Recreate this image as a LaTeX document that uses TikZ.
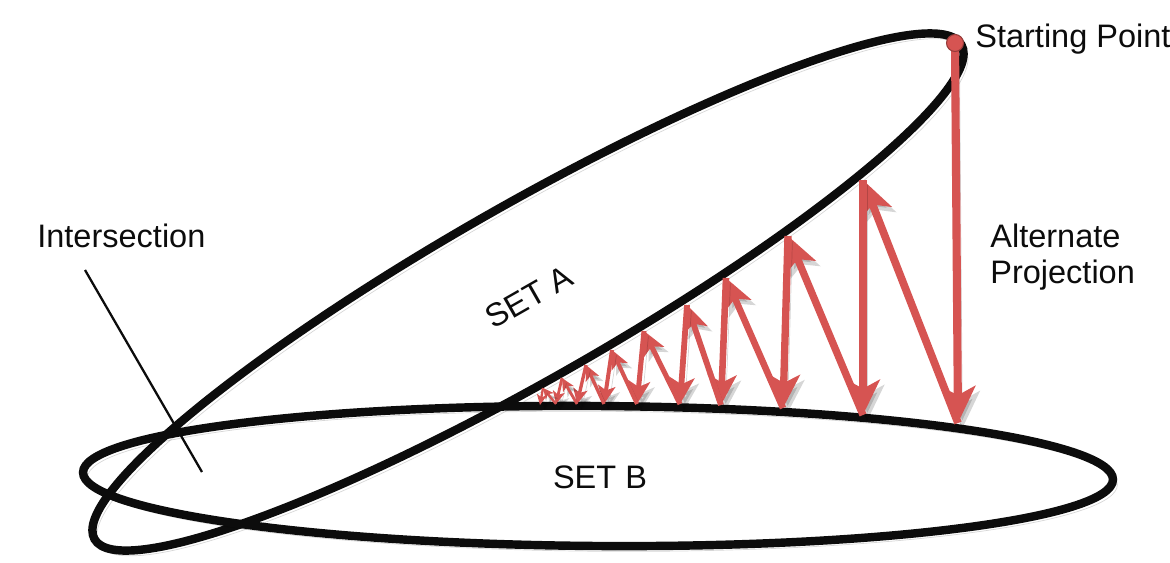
\documentclass[tikz,border=0pt]{standalone}
\usepackage{fontspec}
\setmainfont{Liberation Sans}
\usetikzlibrary{arrows.meta}
\definecolor{projred}{RGB}{214,84,82}
\definecolor{inkblack}{RGB}{12,12,12}

\begin{document}
\begin{tikzpicture}[
    x=0.02cm, y=-0.02cm,
    every node/.style={font=\fontsize{18.5}{20.5}\selectfont, inner sep=0pt, text=inkblack},
    shade line/.style={preaction={draw=black, opacity=0.16,
      transform canvas={shift={(2.5pt,-3pt)}}}},
    setline/.style={line width=4.8pt, draw=inkblack, shade line},
    proj/.style={projred, line width=#1*4.4pt, shade line,
      -{Stealth[length=#1*20pt, width=#1*19pt, inset=#1*5pt]}},
    pointer/.style={line width=1.3pt, draw=inkblack}
  ]
  \useasboundingbox (0,0) rectangle (1170,562);

  % Set A and Set B
  \draw[setline, rotate around={29.7:(528,292)}] (528,292) ellipse [x radius=499, y radius=87];
  \draw[setline, rotate around={-0.4:(598,476)}] (598,476) ellipse [x radius=515, y radius=70];

  % Projections
  \coordinate (start) at (955,43);
  \coordinate (b0) at (958,423);
  \draw[proj=1.05] (start) -- (b0);
  \foreach \tx/\ty/\bx/\by/\s [count=\i] in {
      863/180/863/415/1,
      788/236/783/408/0.95,
      726/278/721/405/0.85,
      687/305/680/404/0.75,
      644/331/637/404/0.65,
      612/350/604/404/0.52,
      586/365/577/404/0.43,
      562/378/556/404/0.36,
      543/388/540/405/0.3}{
    \pgfmathtruncatemacro{\j}{\i-1}
    \coordinate (t\i) at (\tx,\ty);
    \coordinate (b\i) at (\bx,\by);
    \draw[proj=\s] (b\j) -- (t\i);
    \draw[proj=\s] (t\i) -- (b\i);
  }
  \fill[projred, draw=projred!70!black, line width=0.6pt] (start) circle [radius=8.5];

  % Labels
  \node[anchor=base west] (lblstart) at (975,47) {Starting Point};
  \node[anchor=north west, align=left] (lblproj) at (990,224) {Alternate\\Projection};
  \node[anchor=base west] (lblint) at (37,247) {Intersection};
  \node[rotate=29.7] (lblA) at (529,297) {SET A};
  \node (lblB) at (600,477) {SET B};

  % Pointer to the intersection
  \coordinate (ptrtop) at (85,270);
  \coordinate (ptrend) at (202,472);
  \draw[pointer] (ptrtop) -- (ptrend);
\end{tikzpicture}
\end{document}
